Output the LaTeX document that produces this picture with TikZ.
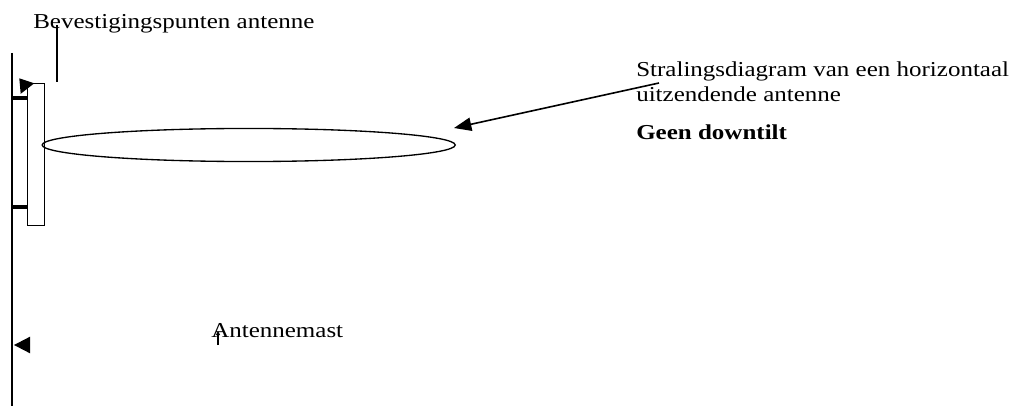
\documentclass[tikz,border=0pt]{standalone}
\usepackage{fontspec}
\usepackage{graphicx}
\setmainfont{Liberation Serif}
\usetikzlibrary{arrows.meta}
\begin{document}
\begin{tikzpicture}[x=0.75pt,y=-0.75pt,
  lbl/.style={anchor=base west, inner sep=0pt, font=\fontsize{18.75pt}{22pt}\selectfont},
  ln/.style={line width=1.2pt, black},
  bracket/.style={line width=2.3pt, black},
  tri/.style={fill=black, draw=none}]
\useasboundingbox[fill=white] (0,0) rectangle (1016,406);

% texts
\node[lbl] (bev) at (33,29) {\scalebox{1}[0.85]{Bevestigingspunten antenne}};
\node[lbl] (stral1) at (636,77) {\scalebox{1}[0.85]{Stralingsdiagram van een horizontaal}};
\node[lbl] (stral2) at (636,102) {\scalebox{1}[0.85]{uitzendende antenne}};
\node[lbl, font=\fontsize{18.75pt}{22pt}\selectfont\bfseries] (geen) at (636,140) {\scalebox{1}[0.85]{Geen downtilt}};
\node[lbl] (mast) at (211,337) {\scalebox{1}[0.85]{Antennemast}};

% mast
\coordinate (mtop) at (12,53);
\coordinate (mbot) at (12,406);
\draw[ln] (mtop) -- (mbot);

% antenna
\node[draw, line width=1pt, anchor=north west, inner sep=0pt,
      minimum width=12.75pt, minimum height=106.5pt] (ant) at (27,83) {};

% brackets
\coordinate (b1) at (12,98);
\coordinate (b2) at (12,207);
\draw[bracket] (b1) -- (b1 -| ant.west);
\draw[bracket] (b2) -- (b2 -| ant.west);

% radiation pattern
\coordinate (lobe) at (248.7,145);
\draw[line width=1pt] (lobe) ellipse [x radius=154.9pt, y radius=12.4pt];

% callout for Bevestigingspunten
\coordinate (bevline) at (56.7,82);
\draw[ln] (56.7,25) -- (bevline);
\fill[tri] (19.3,78.3) -- (34.3,83.3) -- (20.7,93.8) -- cycle;

% arrow to lobe
\coordinate (arrstart) at (659,83);
\coordinate (arrtip) at (454,128);
\draw[ln, -{Triangle[length=13pt,width=10pt]}] (arrstart) -- (arrtip);

% Antennemast callout
\coordinate (mastA) at (218,345);
\coordinate (mastB) at (218,331);
\draw[line width=1pt, -{Triangle[length=3pt,width=3pt]}] (mastA) -- (mastB);
\fill[tri] (14,345) -- (30,336.7) -- (30,353.3) -- cycle;
\end{tikzpicture}
\end{document}
